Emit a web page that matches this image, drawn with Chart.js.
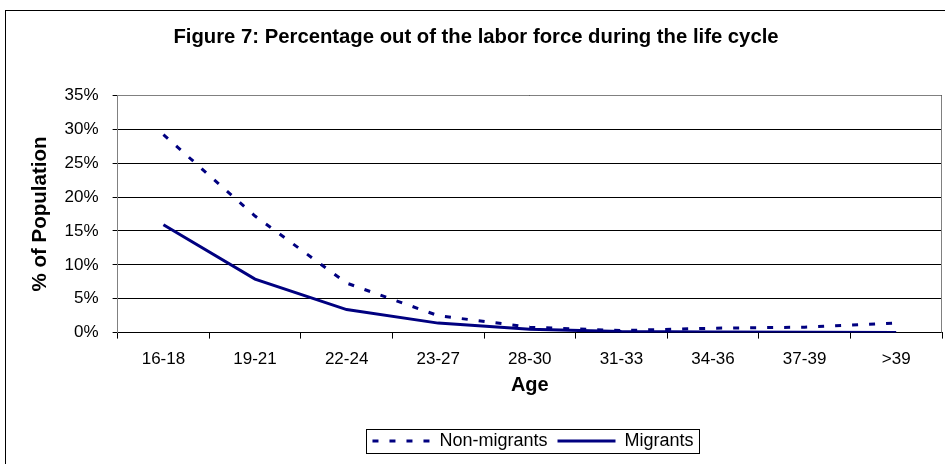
<!DOCTYPE html>
<html>
<head>
<meta charset="utf-8">
<script src="https://cdn.jsdelivr.net/npm/chart.js@4"></script>
<style>
  html, body { margin: 0; padding: 0; background: #fff; }
  #wrap { width: 945px; height: 464px; position: relative; }
</style>
</head>
<body>
<div id="wrap"><canvas id="Chart"></canvas></div>
<script>
var ageGroups = ['16-18', '19-21', '22-24', '23-27', '28-30', '31-33', '34-36', '37-39', '>39'];
var nonMigrants = [29.2, 17.2, 7.3, 2.5, 0.8, 0.3, 0.65, 0.8, 1.4];
var migrants = [15.9, 7.9, 3.4, 1.4, 0.5, 0.15, 0.1, 0.05, 0];
var yTicks = [0, 5, 10, 15, 20, 25, 30, 35];

var FONT = "'Liberation Sans', Arial, sans-serif";
var NAVY = '#000080';
var LEGEND_SHIFT = 57; // legend sits right of page centre in the original

// outer frame, plot area border and the box round the legend
var frames = {
  id: 'frames',
  beforeDraw: function(chart) {
    var ctx = chart.ctx;
    ctx.save();
    ctx.strokeStyle = '#000';
    ctx.lineWidth = 1;
    ctx.strokeRect(5.5, 10.5, chart.width + 20, chart.height + 20);
    ctx.restore();
  },
  afterLayout: function(chart) {
    chart.legend.left += LEGEND_SHIFT;
    chart.legend.right += LEGEND_SHIFT;
  },
  beforeDatasetsDraw: function(chart) {
    var a = chart.chartArea, ctx = chart.ctx;
    ctx.save();
    ctx.strokeStyle = '#808080';
    ctx.lineWidth = 1;
    ctx.beginPath();
    ctx.moveTo(a.left, Math.round(a.top) + 0.5);
    ctx.lineTo(Math.round(a.right) - 0.5, Math.round(a.top) + 0.5);
    ctx.lineTo(Math.round(a.right) - 0.5, a.bottom);
    ctx.stroke();
    ctx.restore();
  },
  afterDraw: function(chart) {
    var boxes = chart.legend.legendHitBoxes;
    if (!boxes || !boxes.length) return;
    var x0 = Infinity, x1 = -Infinity, yc = 0;
    boxes.forEach(function(b) {
      x0 = Math.min(x0, b.left);
      x1 = Math.max(x1, b.left + b.width);
      yc = b.top + b.height / 2;
    });
    var ctx = chart.ctx;
    ctx.save();
    ctx.strokeStyle = '#000';
    ctx.lineWidth = 1;
    ctx.strokeRect(Math.round(x0 - 6) + 0.5, Math.round(yc - 12) + 0.5,
                   Math.round(x1 - x0 + 12), 24);
    ctx.restore();
  }
};

var chart = new Chart('Chart', {
  type: 'line',
  data: {
    labels: ageGroups,
    datasets: [{
      label: 'Non-migrants',
      data: nonMigrants,
      borderColor: NAVY,
      backgroundColor: NAVY,
      borderWidth: 3,
      borderDash: [6, 11],
      pointRadius: 0,
      tension: 0
    }, {
      label: 'Migrants',
      data: migrants,
      borderColor: NAVY,
      backgroundColor: NAVY,
      borderWidth: 3,
      pointRadius: 0,
      tension: 0
    }]
  },
  options: {
    responsive: true,
    maintainAspectRatio: false,
    animation: false,
    layout: {
      padding: { top: 10, left: 10, right: 3, bottom: 4 }
    },
    plugins: {
      title: {
        display: true,
        text: 'Figure 7: Percentage out of the labor force during the life cycle',
        color: '#000',
        font: { family: FONT, size: 20.3, weight: 'bold' },
        padding: { top: 15, bottom: 46 }
      },
      legend: {
        position: 'bottom',
        labels: {
          color: '#000',
          font: { family: FONT, size: 18 },
          usePointStyle: true,
          pointStyle: 'line',
          pointStyleWidth: 58,
          padding: 10,
          generateLabels: function(chart) {
            var items = Chart.defaults.plugins.legend.labels.generateLabels(chart);
            items.forEach(function(it) {
              var ds = chart.data.datasets[it.datasetIndex];
              it.lineDash = ds.borderDash || [];
              it.lineWidth = 3;
              it.strokeStyle = NAVY;
            });
            return items;
          }
        }
      },
      tooltip: { enabled: false }
    },
    scales: {
      x: {
        offset: true,
        grid: {
          offset: true,
          drawOnChartArea: false,
          drawTicks: true,
          tickLength: 6,
          tickColor: '#000'
        },
        border: { color: '#000', width: 1 },
        ticks: {
          color: '#000',
          padding: 11,
          font: { family: FONT, size: 17 }
        },
        title: {
          display: true,
          text: 'Age',
          color: '#000',
          font: { family: FONT, size: 20, weight: 'bold' },
          padding: { top: -8, bottom: 25 }
        }
      },
      y: {
        min: 0,
        max: 35,
        afterBuildTicks: function(scale) {
          scale.ticks = yTicks.map(function(v) { return { value: v }; });
        },
        grid: {
          color: '#000',
          tickColor: '#000',
          tickLength: 5
        },
        border: { color: '#808080', width: 1 },
        ticks: {
          color: '#000',
          padding: 14,
          font: { family: FONT, size: 17 },
          callback: function(v) { return v + '%'; }
        },
        title: {
          display: true,
          text: '% of Population',
          color: '#000',
          font: { family: FONT, size: 20.5, weight: 'bold' },
          padding: { top: 18, bottom: -2 }
        }
      }
    }
  },
  plugins: [frames]
});
</script>
</body>
</html>
